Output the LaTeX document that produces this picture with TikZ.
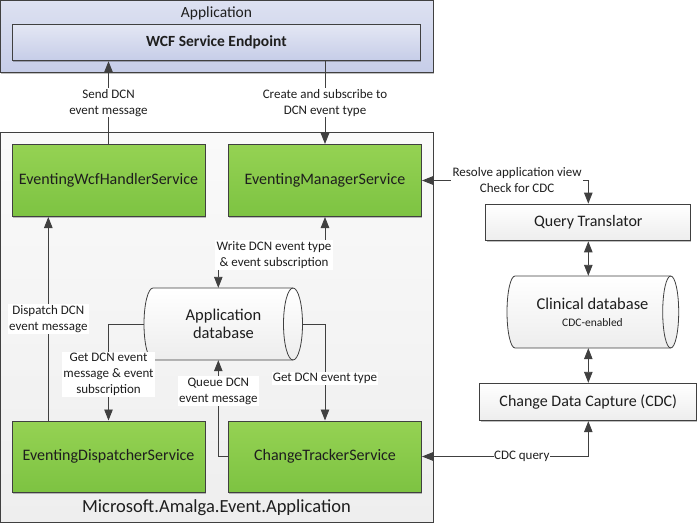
\documentclass[tikz,border=0pt]{standalone}
\usepackage{fontspec}
\setmainfont{Carlito}
\usetikzlibrary{arrows.meta,shadows,calc}
\definecolor{lineC}{HTML}{404040}
\definecolor{txtC}{HTML}{1E1E1E}
\definecolor{gTop}{HTML}{95D253}
\definecolor{gBot}{HTML}{7DC342}
\definecolor{aTop}{HTML}{DDE1F1}
\definecolor{aBot}{HTML}{C6CDE8}
\definecolor{cTop}{HTML}{FAFAFA}
\definecolor{cBot}{HTML}{EEEEEE}
\begin{document}
\begin{tikzpicture}[x=1pt,y=-1pt,
  box/.style={draw=lineC, line width=1pt, rectangle, inner sep=0pt, text=txtC},
  shad/.style={drop shadow={shadow xshift=0.6pt, shadow yshift=-1.6pt, opacity=0.25, fill=black}},
  svc/.style={box, shad, top color=gTop, bottom color=gBot, font=\fontsize{16}{19}\selectfont, minimum width=193pt, minimum height=72pt},
  plain/.style={box, shad, top color=white, bottom color=gray!14, font=\fontsize{16}{19}\selectfont},
  lbl/.style={fill=white, inner sep=1.2pt, align=center, text=txtC, font=\fontsize{13}{16}\selectfont},
  con/.style={draw=lineC, line width=0.9pt},
  tipA/.style={-{Triangle[length=11pt,width=8.5pt]}},
  tipB/.style={{Triangle[length=11pt,width=8.5pt]}-{Triangle[length=11pt,width=8.5pt]}},
  cyl/.style={draw=lineC, line width=0.8pt, top color=white, bottom color=gray!14},
]
\useasboundingbox (0,0) rectangle (699,525);

% Application box
\node[box, shad, top color=aTop, bottom color=aBot, minimum width=433pt, minimum height=72pt] (app) at (216.5,36) {};
\node[text=txtC, font=\fontsize{15.5}{18}\selectfont] (apptitle) at (216.5,13) {Application};
\node[box, shad, top color=aTop!80!white, bottom color=aBot, minimum width=408.7pt, minimum height=36.7pt,
      font=\bfseries\fontsize{15.5}{18}\selectfont] (wcf) at (216.4,42.4) {WCF Service Endpoint};

% Container
\node[box, top color=cTop, bottom color=cBot, minimum width=433pt, minimum height=390pt] (cont) at (216.5,327) {};
\node[text=txtC, font=\fontsize{18.5}{22}\selectfont] (conttitle) at (216.5,508) {Microsoft.Amalga.Event.Application};

% Services
\node[svc] (handler) at (108.5,180.5) {EventingWcfHandlerService};
\node[svc] (manager) at (325,180.5) {EventingManagerService};
\node[svc, minimum height=71pt] (dispatcher) at (108.5,456.5) {EventingDispatcherService};
\node[svc, minimum height=71pt] (tracker) at (325,456.5) {ChangeTrackerService};

% Application database cylinder
\path[cyl] (153,288) -- (293,288) arc[start angle=90, end angle=-90, x radius=9.5pt, y radius=36pt]
  -- (153,360) arc[start angle=270, end angle=90, x radius=9pt, y radius=36pt] -- cycle;
\draw[draw=lineC, line width=0.8pt] (293,288) arc[start angle=90, end angle=270, x radius=9.5pt, y radius=36pt];
\node[inner sep=0pt, minimum width=159pt, minimum height=72pt, align=center, text=txtC,
      font=\fontsize{16.5}{18.5}\selectfont] (appdb) at (223.5,324) {Application\\database};

% Right side
\node[plain, minimum width=204.7pt, minimum height=36.7pt] (qt) at (588.3,222.5) {Query Translator};
\path[cyl] (515,276) -- (670.7,276) arc[start angle=90, end angle=-90, x radius=8pt, y radius=36pt]
  -- (515,348) arc[start angle=270, end angle=90, x radius=8pt, y radius=36pt] -- cycle;
\draw[draw=lineC, line width=0.8pt] (670.7,276) arc[start angle=90, end angle=270, x radius=8pt, y radius=36pt];
\node[inner sep=0pt, minimum width=171pt, minimum height=72pt, align=center, text=txtC] (clin) at (592.5,312)
  {{\fontsize{16.5}{19}\selectfont Clinical database}\\[5pt]{\fontsize{11.5}{14}\selectfont CDC-enabled}};
\node[plain, minimum width=216.7pt, minimum height=37.4pt] (cdc) at (588.3,402) {Change Data Capture (CDC)};

% Connectors
\coordinate (dbN) at ($(appdb.north)+(-5.2,0)$);
\coordinate (dbS) at ($(appdb.south)+(-5.2,0)$);
\coordinate (dispL) at ($(dispatcher.north)+(-60.2,0)$);
\coordinate (handL) at ($(handler.south)+(-60.2,0)$);

\draw[con, tipA] (handler.north) -- (handler.north |- wcf.south)
  node[lbl, midway] (l1) {Send DCN\\event message};
\draw[con, tipA] (wcf.south -| manager.north) -- (manager.north)
  node[lbl, midway] (l2) {Create and subscribe to\\DCN event type};
\draw[con, tipB] (dbN) -- ++(0,-33) -| (manager.south);
\node[lbl] (l3) at (274,255) {Write DCN event type\\\& event subscription};
\draw[con, tipA] (dispL) -- (handL)
  node[lbl, midway] (l4) {Dispatch DCN\\event message};
\draw[con, tipA] (appdb.west) -| (dispatcher.north)
  node[lbl, pos=0.76] (l5) {Get DCN event\\message \& event\\subscription};
\draw[con, tipA] (appdb.east) -| (tracker.north)
  node[lbl, pos=0.78] (l6) {Get DCN event type};
\draw[con, tipA] (tracker.west) -| (dbS)
  node[lbl, pos=0.84] (l7) {Queue DCN\\event message};
\draw[con, tipB] (manager.east) -| (qt.north)
  node[lbl, pos=0.286] (l8) {Resolve application view\\Check for CDC};
\draw[con, tipB] (tracker.east) -| (cdc.south)
  node[lbl, pos=0.30, inner sep=0.5pt] (l9) {CDC query};
\draw[con, tipB] (qt.south) -- (qt.south |- clin.north);
\draw[con, tipB] (cdc.north |- clin.south) -- (cdc.north);
\end{tikzpicture}
\end{document}
